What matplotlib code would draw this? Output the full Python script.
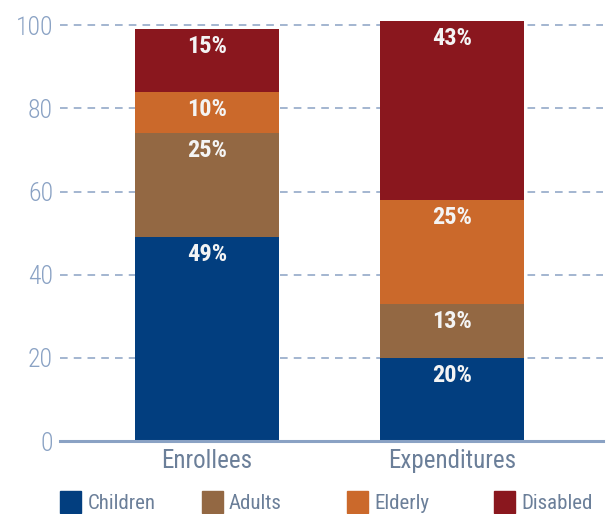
import matplotlib.pyplot as plt
from matplotlib.patches import Patch

plt.rcParams['font.family'] = ['Roboto Condensed', 'DejaVu Sans']

categories = ["Enrollees", "Expenditures"]
groups = ["Children", "Adults", "Elderly", "Disabled"]
values = {
    "Children": [49, 20],
    "Adults": [25, 13],
    "Elderly": [10, 25],
    "Disabled": [15, 43],
}
colors = {"Children": "#023e7f", "Adults": "#936843", "Elderly": "#cb692b", "Disabled": "#8a171e"}
yticks = [0, 20, 40, 60, 80, 100]

tick_col = "#8aa2c4"
lab_col = "#6b7f99"

fig = plt.figure(figsize=(6.15, 5.14), dpi=100)
ax = fig.add_axes([0.0976, 0.142, 0.883, 0.829])

x = range(len(categories))
bottom = [0, 0]
for g in groups:
    ax.bar(x, values[g], bottom=bottom, width=0.588, color=colors[g], zorder=3)
    for i in x:
        top = bottom[i] + values[g][i]
        ax.text(i, top - 1.4, f"{values[g][i]}%", ha='center', va='top', color='#f4f4f4',
                fontsize=17.5, fontweight='bold', zorder=4)
    bottom = [bottom[i] + values[g][i] for i in x]

ax.set_xlim(-0.6, 1.615)
ax.set_ylim(0, 102.5)
ax.set_yticks(yticks)
ax.set_xticks(list(x))
ax.set_xticklabels(categories)
ax.yaxis.grid(True, linestyle=(0, (5, 4)), color=tick_col, linewidth=1.1, zorder=0)
for s in ["top", "right", "left"]:
    ax.spines[s].set_visible(False)
ax.spines["bottom"].set_color(tick_col)
ax.spines["bottom"].set_linewidth(2.2)
ax.spines["bottom"].set_zorder(5)
ax.tick_params(axis='y', length=0, pad=5, labelsize=18.5, labelcolor=tick_col)
ax.tick_params(axis='x', length=0, pad=6, labelsize=18, labelcolor=lab_col)
for t in ax.get_yticklabels():
    t.set_fontweight('light')

leg_x = [0.098, 0.328, 0.565, 0.804]
for g, lx in zip(groups, leg_x):
    fig.legend(handles=[Patch(color=colors[g], label=g)], loc='center left',
               bbox_to_anchor=(lx, 0.024), frameon=False, fontsize=15,
               handlelength=1.0, handleheight=1.25, handletextpad=0.3,
               borderaxespad=0, borderpad=0, labelcolor=lab_col)

fig.savefig("out.png", dpi=100)
